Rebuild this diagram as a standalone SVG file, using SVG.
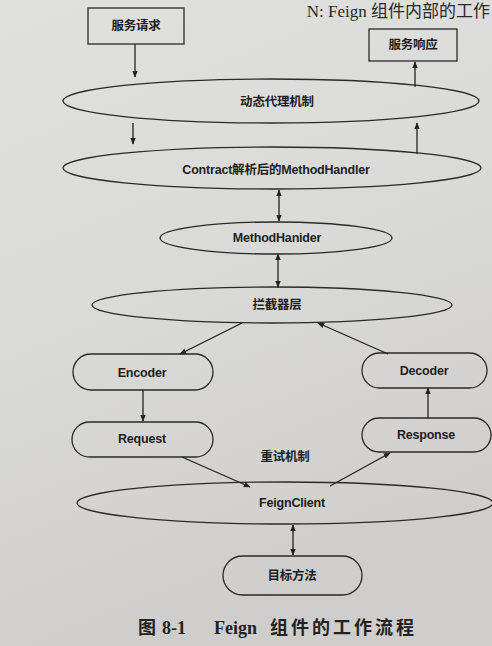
<svg xmlns="http://www.w3.org/2000/svg" width="492" height="646" viewBox="0 0 492 646">
<defs>
<linearGradient id="bg" x1="0" y1="0" x2="0.3" y2="1">
<stop offset="0" stop-color="#e0e0de"/>
<stop offset="0.5" stop-color="#dadad8"/>
<stop offset="1" stop-color="#cfcecc"/>
</linearGradient>
<marker id="ah" viewBox="0 0 10 10" refX="9" refY="5" markerWidth="7" markerHeight="7" orient="auto-start-reverse" markerUnits="userSpaceOnUse">
<path d="M0,1 L10,5 L0,9 z" fill="#222"/>
</marker>
<style>
.n{fill:none;stroke:#2a2a2a;stroke-width:1.3}
.t{font-family:"Liberation Sans","Noto Sans CJK SC",sans-serif;font-weight:bold;font-size:12.5px;fill:#1e1e1e;text-anchor:middle;dominant-baseline:central;letter-spacing:-0.2px}
.c{stroke:#222;stroke-width:1.3;fill:none}
.cap{font-family:"Liberation Serif","Noto Sans CJK SC",serif;font-weight:bold;font-size:18px;fill:#222}
.hdr{font-family:"Liberation Serif","Noto Sans CJK SC",serif;font-weight:normal;font-size:17px;fill:#2a2a2a;text-anchor:end}
</style>
</defs>
<rect x="0" y="0" width="492" height="646" fill="url(#bg)"/>
<text class="hdr" x="490" y="17">N: Feign 组件内部的工作</text>
<g id="n-req"><rect class="n" x="88" y="8" width="96" height="36"/><text class="t" x="136" y="26">服务请求</text></g>
<g id="n-resp"><rect class="n" x="369" y="29" width="88" height="32"/><text class="t" x="413" y="45">服务响应</text></g>
<g id="n-proxy"><ellipse class="n" cx="271" cy="101" rx="208" ry="22"/><text class="t" x="277" y="102">动态代理机制</text></g>
<g id="n-contract"><ellipse class="n" cx="272" cy="168" rx="209" ry="21"/><text class="t" x="276" y="170">Contract解析后的MethodHandler</text></g>
<g id="n-mh"><ellipse class="n" cx="276" cy="238" rx="116" ry="16"/><text class="t" x="277" y="238">MethodHanider</text></g>
<g id="n-inter"><ellipse class="n" cx="272" cy="305" rx="180" ry="18"/><text class="t" x="277" y="305">拦截器层</text></g>
<g id="n-enc"><rect class="n" x="73" y="354" width="140" height="36" rx="18"/><text class="t" x="142" y="373">Encoder</text></g>
<g id="n-dec"><rect class="n" x="362" y="353" width="125" height="35" rx="17.5"/><text class="t" x="424" y="371">Decoder</text></g>
<g id="n-request"><rect class="n" x="72" y="422" width="141" height="35" rx="17.5"/><text class="t" x="142" y="439">Request</text></g>
<g id="n-response"><rect class="n" x="362" y="418" width="129" height="34" rx="17"/><text class="t" x="426" y="435">Response</text></g>
<g id="n-feign"><ellipse class="n" cx="285" cy="503" rx="208" ry="21"/><text class="t" x="292" y="503">FeignClient</text></g>
<g id="n-target"><rect class="n" x="223" y="556" width="139" height="39" rx="19.5"/><text class="t" x="292" y="576">目标方法</text></g>
<g id="connectors">
<line class="c" x1="135" y1="44" x2="135" y2="77" marker-end="url(#ah)"/>
<line class="c" x1="415" y1="87" x2="415" y2="62" marker-end="url(#ah)"/>
<line class="c" x1="133" y1="123" x2="133" y2="144" marker-end="url(#ah)"/>
<line class="c" x1="417" y1="154" x2="417" y2="123" marker-end="url(#ah)"/>
<line class="c" x1="279" y1="190" x2="279" y2="221" marker-start="url(#ah)" marker-end="url(#ah)"/>
<line class="c" x1="278" y1="254" x2="278" y2="287" marker-start="url(#ah)" marker-end="url(#ah)"/>
<line class="c" x1="242" y1="323" x2="180" y2="354" marker-end="url(#ah)"/>
<line class="c" x1="388" y1="354" x2="318" y2="323" marker-end="url(#ah)"/>
<line class="c" x1="143" y1="390" x2="143" y2="421" marker-end="url(#ah)"/>
<line class="c" x1="428" y1="418" x2="428" y2="388" marker-end="url(#ah)"/>
<line class="c" x1="182" y1="457" x2="250" y2="487" marker-end="url(#ah)"/>
<line class="c" x1="330" y1="486" x2="390" y2="453" marker-end="url(#ah)"/>
<line class="c" x1="293" y1="525" x2="293" y2="555" marker-start="url(#ah)" marker-end="url(#ah)"/>
</g>
<text class="t" x="285" y="457">重试机制</text>
<text class="cap" y="634"><tspan x="138">图</tspan><tspan x="162">8-1</tspan><tspan x="214">Feign</tspan><tspan x="270" letter-spacing="3">组件的工作流程</tspan></text>
</svg>
